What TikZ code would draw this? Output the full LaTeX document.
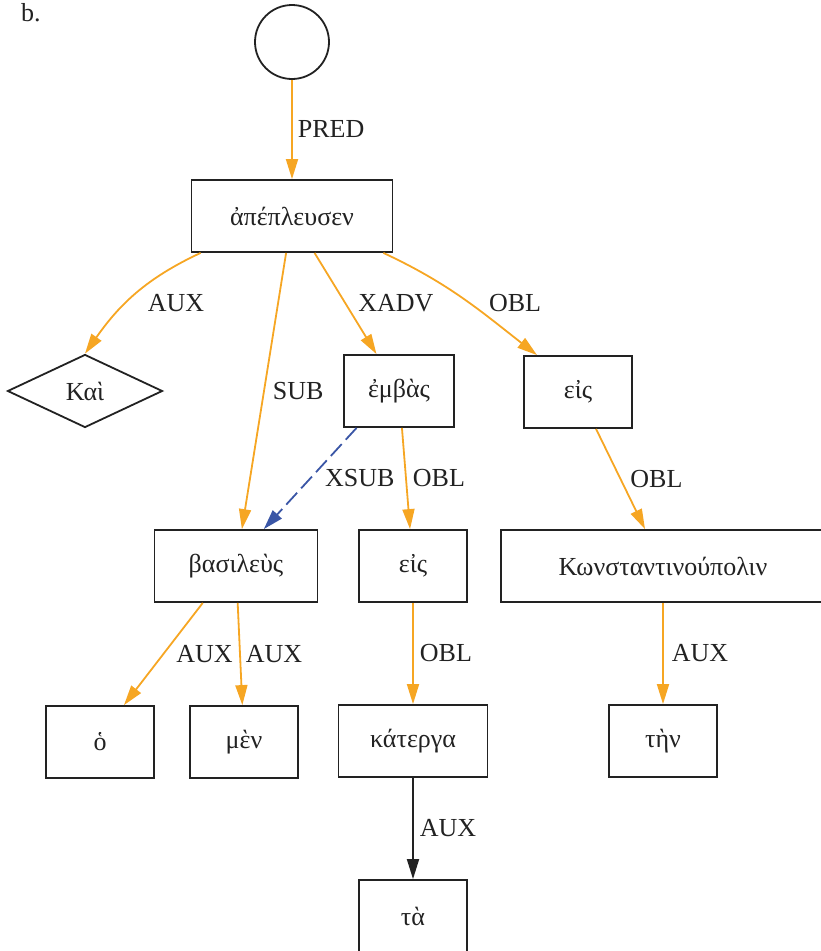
\documentclass[tikz,border=0pt]{standalone}
\usepackage{fontspec}
\setmainfont{Liberation Serif}
\usepackage{xcolor}
\usetikzlibrary{shapes.geometric,arrows.meta,positioning}
\definecolor{orng}{RGB}{246,166,35}
\definecolor{bluedep}{RGB}{58,86,166}
\definecolor{ink}{RGB}{34,34,34}

\begin{document}
\begin{tikzpicture}[x=1pt, y=1pt, font=\fontsize{26}{31}\selectfont, text=ink,
    word/.style={draw=ink, line width=1.8pt, rectangle, minimum width=108pt, minimum height=72pt, inner sep=0pt},
    rootnode/.style={draw=ink, line width=1.8pt, circle, minimum size=74pt, inner sep=0pt},
    conj/.style={draw=ink, line width=1.8pt, diamond, minimum width=155pt, minimum height=73pt, inner sep=0pt},
    dep/.style={orng, line width=1.8pt, -{Triangle[length=20pt,width=12pt]}},
    xdep/.style={bluedep, line width=1.8pt, dash pattern=on 16pt off 6pt, -{Triangle[length=20pt,width=12pt]}},
    blk/.style={ink, line width=1.8pt, -{Triangle[length=20pt,width=12pt]}},
    lbl/.style={inner sep=0pt, text=ink}]
    \useasboundingbox (0,0) rectangle (820,-951);
    \node[lbl, anchor=base west] (fig) at (21,-21) {b.};
    \node[rootnode] (top) at (292,-42) {};
    \node[word, minimum width=201pt] (root) at (292,-216) {ἀπέπλευσεν};
    \node[conj] (kai) at (85,-391) {Καὶ};
    \node[word, minimum width=110pt] (embas) at (399,-391) {ἐμβὰς};
    \node[word] (eisR) at (578,-392) {εἰς};
    \node[word, minimum width=163pt] (basileus) at (236,-566) {βασιλεὺς};
    \node[word] (eisM) at (413,-566) {εἰς};
    \node[word, minimum width=324pt] (konst) at (663,-566) {Κωνσταντινούπολιν};
    \node[word] (ho) at (100,-742) {ὁ};
    \node[word] (men) at (244,-742) {μὲν};
    \node[word, minimum width=149pt] (katerga) at (413,-741) {κάτεργα};
    \node[word] (ten) at (663,-741) {τὴν};
    \node[word] (ta) at (413,-916) {τὰ};
    \draw[dep] (top) -- node[lbl, right=5pt] {PRED} (root);
    \draw[dep] (root.202) to[out=205, in=55] (kai.north) node[lbl] at (176,-303) {AUX};
    \draw[dep] (root) -- node[lbl, right=8pt] {SUB} (basileus);
    \draw[dep] (root) -- node[lbl, right=12pt] {XADV} (embas);
    \draw[dep] (root.-22) to[out=-25, in=142] (eisR.138) node[lbl] at (515,-303) {OBL};
    \draw[xdep] (embas.221) -- node[lbl, right=14pt] {XSUB} (basileus.53);
    \draw[dep] (embas) -- node[lbl, right=6pt] {OBL} (eisM);
    \draw[dep] (eisR) -- node[lbl, right=9pt] {OBL} (konst);
    \draw[dep] (basileus.228) -- node[lbl, right=12pt] {AUX} (ho.57);
    \draw[dep] (basileus) -- node[lbl, right=5pt] {AUX} (men);
    \draw[dep] (eisM) -- node[lbl, right=6pt] {OBL} (katerga);
    \draw[dep] (konst) -- node[lbl, right=8pt] {AUX} (ten);
    \draw[blk] (katerga) -- node[lbl, right=6pt] {AUX} (ta);
\end{tikzpicture}
\end{document}
